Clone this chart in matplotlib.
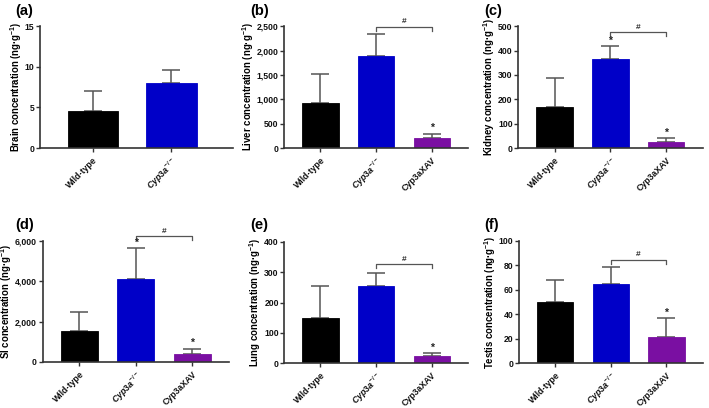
import matplotlib
matplotlib.use('Agg')
import matplotlib.pyplot as plt
from matplotlib.ticker import FuncFormatter

plt.rcParams['font.family'] = ['Liberation Sans', 'DejaVu Sans']
plt.rcParams['font.weight'] = 'bold'
plt.rcParams['mathtext.fontset'] = 'custom'
plt.rcParams['mathtext.rm'] = 'Liberation Sans:bold'
plt.rcParams['mathtext.it'] = 'Liberation Sans:bold:italic'
plt.rcParams['mathtext.bf'] = 'Liberation Sans:bold'

# groups
groups = ['Wild-type', r'$\mathit{Cyp3a}^{-/-}$', 'Cyp3aXAV']
colors = ['#000000', '#0000c8', '#7a0fa2']

# mean values and upper error bar ends, per panel
brain = [4.6, 8.0]
brain_top = [7.0, 9.6]
liver = [920, 1890, 200]
liver_top = [1520, 2340, 290]
kidney = [168, 365, 27]
kidney_top = [287, 418, 40]
si = [1550, 4130, 400]
si_top = [2480, 5650, 650]
lung = [148, 255, 23]
lung_top = [253, 298, 33]
testis = [50, 64.5, 21.5]
testis_top = [68, 78.5, 36.5]

panels = [
    ('(a)', 'Brain', brain, brain_top, 15, [0, 5, 10, 15], [False, False], None),
    ('(b)', 'Liver', liver, liver_top, 2500, [0, 500, 1000, 1500, 2000, 2500], [False, False, True], 2490),
    ('(c)', 'Kidney', kidney, kidney_top, 500, [0, 100, 200, 300, 400, 500], [False, True, True], 475),
    ('(d)', 'SI', si, si_top, 6000, [0, 2000, 4000, 6000], [False, True, True], 6250),
    ('(e)', 'Lung', lung, lung_top, 400, [0, 100, 200, 300, 400], [False, False, True], 327),
    ('(f)', 'Testis', testis, testis_top, 100, [0, 20, 40, 60, 80, 100], [False, False, True], 84.6),
]

# axes boxes in figure fraction [left, bottom, width, height]
boxes = [
    [0.056, 0.637, 0.272, 0.299],
    [0.401, 0.637, 0.259, 0.299],
    [0.731, 0.637, 0.260, 0.299],
    [0.060, 0.113, 0.263, 0.296],
    [0.401, 0.110, 0.259, 0.297],
    [0.732, 0.110, 0.259, 0.300],
]
label_pos = [(15, 4), (250, 4), (484, 4), (15, 218), (250, 218), (484, 218)]

fig = plt.figure(figsize=(7.09, 4.08), dpi=100)
axis_col = '#333333'
err_col = '#555555'

for (tag, organ, vals, tops, ymax, yt, stars, bracket), box, lp in zip(panels, boxes, label_pos):
    ax = fig.add_axes(box)
    n = len(vals)
    x = list(range(n))
    ax.bar(x, vals, width=0.65, color=colors[:n], edgecolor=colors[:n], linewidth=0.6, zorder=2)
    lower = [0] * n
    upper = [t - v for t, v in zip(tops, vals)]
    ax.errorbar(x, vals, yerr=[lower, upper], fmt='none', ecolor=err_col,
                elinewidth=1.1, capsize=6.5, capthick=1.1, zorder=1)
    for i in range(n):
        if stars[i]:
            ax.text(x[i], tops[i] + ymax * 0.005, '*', ha='center', va='bottom',
                    fontsize=7.5, color='#222222')
    if bracket is not None:
        h = ymax * 0.035
        ax.plot([1, 1, 2, 2], [bracket - h, bracket, bracket, bracket - h],
                color=err_col, lw=0.9, clip_on=False)
        ax.text(1.5, bracket + ymax * 0.01, '#', ha='center', va='bottom',
                fontsize=6, color='#333333', clip_on=False)
    if n == 2:
        ax.set_xlim(-0.68, 1.78)
    else:
        ax.set_xlim(-0.65, 2.65)
    ax.set_ylim(0, ymax)
    ax.set_yticks(yt)
    ax.yaxis.set_major_formatter(FuncFormatter(lambda v, p: f'{int(v):,}'))
    ax.set_xticks(x)
    ax.set_xticklabels(groups[:n], rotation=45, ha='right', rotation_mode='anchor')
    ax.tick_params(axis='both', colors=axis_col, length=3, width=1.0)
    ax.tick_params(axis='y', labelsize=6.2, pad=1)
    ax.tick_params(axis='x', labelsize=6.3, pad=2.5)
    for lab in ax.get_xticklabels() + ax.get_yticklabels():
        lab.set_color('#111111')
        lab.set_fontweight('bold')
    ax.set_ylabel(organ + r' concentration (ng·g$^{-1}$)', fontsize=6.9, fontweight='bold', labelpad=0.5)
    for s in ['top', 'right']:
        ax.spines[s].set_visible(False)
    for s in ['left', 'bottom']:
        ax.spines[s].set_color(axis_col)
        ax.spines[s].set_linewidth(1.2)
    fig.text(lp[0] / 709, 1 - lp[1] / 408, tag, fontsize=10.5, fontweight='bold', va='top', ha='left')

fig.savefig('out.png', dpi=100)
